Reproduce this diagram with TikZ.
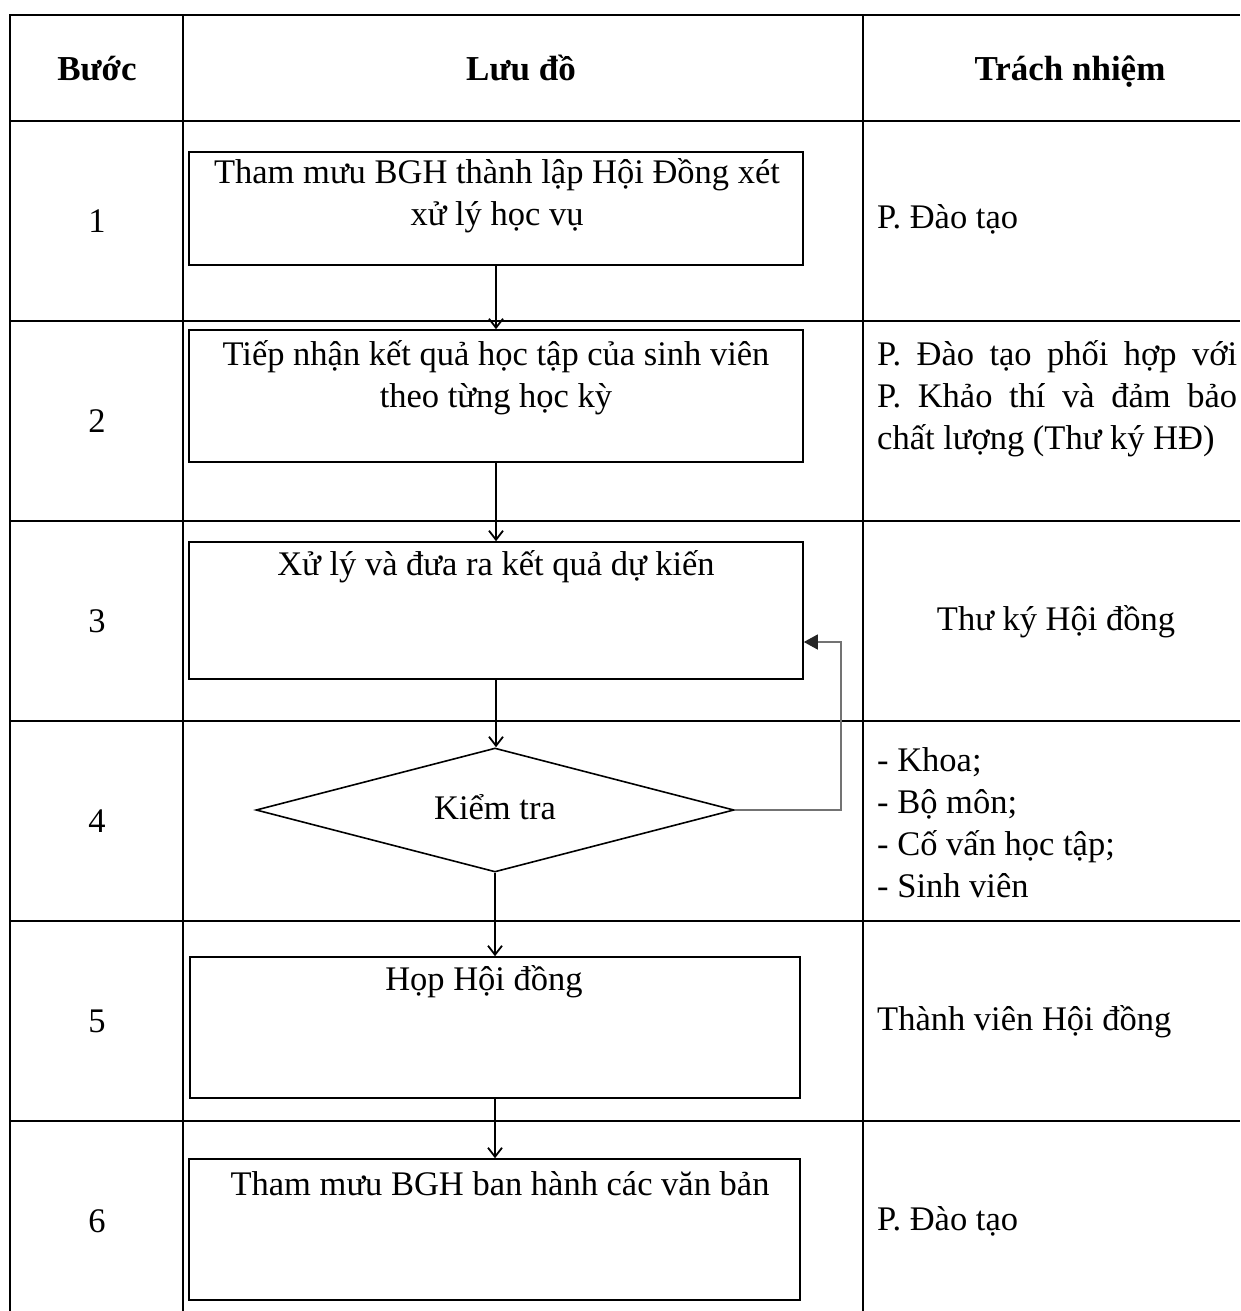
\documentclass[tikz,border=0pt]{standalone}
\usepackage{fontspec}
\setmainfont{Liberation Serif}
\usetikzlibrary{arrows.meta,shapes.geometric}

\tikzset{
	grid/.style={line width=2.2pt},
	box/.style={draw, line width=1.6pt, rectangle, inner sep=0pt},
	flow/.style={line width=1.8pt, -{Straight Barb[length=9pt,width=14pt]}},
	back/.style={line width=1.3pt, draw=black!55, -{Triangle[length=14pt,width=15pt,color=black!85]}},
	txt/.style={inner sep=0pt, align=center, font=\fontsize{34.5}{42}\selectfont},
	head/.style={txt, font=\fontsize{35}{42}\selectfont\bfseries},
}

\begin{document}
\begin{tikzpicture}[x=1pt,y=-1pt]
	\useasboundingbox (0,0) rectangle (1240,1311);

	\draw[grid] (10,1311) -- (10,15) -- (1240,15);
	\foreach \y in {121,321,521,721,921,1121}
		\draw[grid] (10,\y) -- (1240,\y);
	\foreach \x in {183,863}
		\draw[grid] (\x,15) -- (\x,1311);

	\node[head, anchor=base] (hbuoc) at (97,81) {Bước};
	\node[head, anchor=base] (hluudo) at (521,81) {Lưu đồ};
	\node[head, anchor=base] (htn) at (1070,81) {Trách nhiệm};

	\foreach \n in {1,...,6}
		\node[txt] (n\n) at (97,21+200*\n) {\n};

	\begin{scope}[every node/.append style={box}]
	\node[minimum width=614pt, minimum height=113pt] (b1) at (496,208.5) {};
	\node[minimum width=614pt, minimum height=132pt] (b2) at (496,396) {};
	\node[minimum width=614pt, minimum height=137pt] (b3) at (496,610.5) {};
	\node[diamond, aspect=3.85, minimum width=478pt, minimum height=124pt] (d4) at (495,810) {};
	\node[minimum width=610pt, minimum height=141pt] (b5) at (495,1027.5) {};
	\node[minimum width=611pt, minimum height=141pt] (b6) at (494.5,1229.5) {};
	\end{scope}

	\node[txt, anchor=base] (t1) at (497,225) {Tham mưu BGH thành lập Hội Đồng xét\\xử lý học vụ};
	\node[txt, anchor=base] (t2) at (496,407) {Tiếp nhận kết quả học tập của sinh viên\\theo từng học kỳ};
	\node[txt, anchor=base] (t3) at (496,575) {Xử lý và đưa ra kết quả dự kiến};
	\node[txt] (t4) at (495,807) {Kiểm tra};
	\node[txt, anchor=base] (t5) at (484,990) {Họp Hội đồng};
	\node[txt, anchor=base] (t6) at (500,1195) {Tham mưu BGH ban hành các văn bản};

	\draw[flow] (b1.south) -- (b1.south |- b2.north);
	\draw[flow] (b2.south) -- (b2.south |- b3.north);
	\draw[flow] (b3.south) -- (d4.north -| b3.south);
	\draw[flow] (d4.south) -- (d4.south |- b5.north);
	\draw[flow] (b5.south) -- (b5.south |- b6.north);

	\coordinate (fb) at (841,642);
	\draw[back] (d4.east) -| (fb) -- (fb -| b3.east);

	\node[txt, anchor=base west] (r1) at (877,228) {P. Đào tạo};
	\node[txt, anchor=base west, align=left] (r2) at (877,449)
		{\makebox[360pt][s]{P. Đào tạo phối hợp với}\\
		\makebox[360pt][s]{P. Khảo thí và đảm bảo}\\
		chất lượng (Thư ký HĐ)};
	\node[txt, anchor=base] (r3) at (1056,630) {Thư ký Hội đồng};
	\node[txt, anchor=base west, align=left] (r4) at (877,897)
		{- Khoa;\\- Bộ môn;\\- Cố vấn học tập;\\- Sinh viên};
	\node[txt, anchor=base west] (r5) at (877,1030) {Thành viên Hội đồng};
	\node[txt, anchor=base west] (r6) at (877,1230) {P. Đào tạo};
\end{tikzpicture}
\end{document}
